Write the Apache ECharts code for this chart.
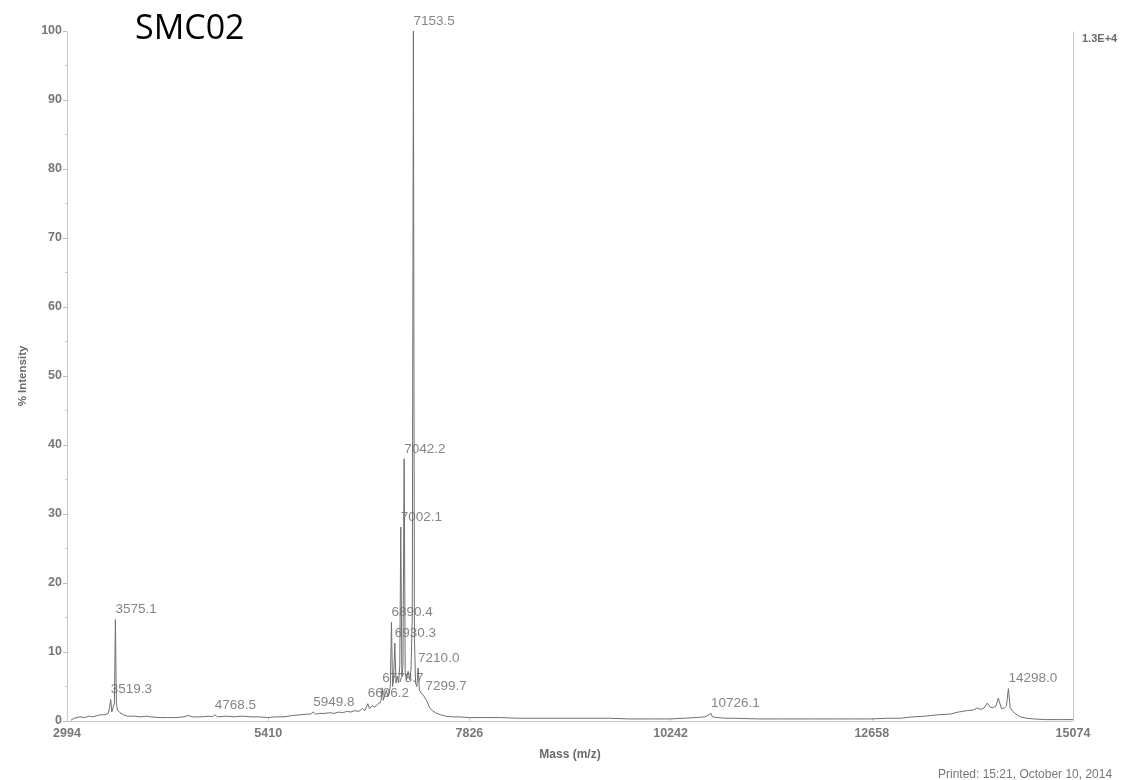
<!DOCTYPE html>
<html>
<head>
<meta charset="utf-8">
<script src="https://cdn.jsdelivr.net/npm/echarts@6/dist/echarts.min.js"></script>
<style>
html,body{margin:0;padding:0;background:#fff;}
#chart{width:1129px;height:780px;}
</style>
</head>
<body>
<div id="chart"></div>
<script>
// Spectrum trace (mass m/z, % intensity)
var specMass = [
  3040, 3080, 3150, 3200, 3260, 3300, 3360, 3400, 3450, 3490, 3505, 3519.3, 3532, 3550, 3563, 3575.1, 3587, 3600, 3630, 3670, 3720,
  3800, 3880, 3950, 4000, 4100, 4200, 4300, 4400, 4450, 4500, 4600, 4700, 4740, 4768.5, 4800, 4900, 5000, 5100, 5200, 5300, 5400,
  5500, 5600, 5700, 5800, 5880, 5920, 5949.8, 5980, 6030, 6080, 6150, 6200, 6260, 6300, 6360, 6400, 6450, 6500, 6540, 6570, 6590,
  6606.2, 6625, 6660, 6690, 6720, 6750, 6765, 6778.7, 6792, 6810, 6830, 6845, 6860, 6876, 6890.4, 6903, 6915, 6930.3, 6945, 6960,
  6975, 6990, 7002.1, 7015, 7028, 7042.2, 7055, 7070, 7090, 7110, 7125, 7140, 7153.5, 7166, 7180, 7195, 7210, 7225, 7250, 7280,
  7299.7, 7320, 7345, 7380, 7420, 7480, 7540, 7620, 7700, 7826, 8000, 8200, 8400, 8600, 8800, 9000, 9250, 9500, 9750, 10000,
  10242, 10400, 10550, 10650, 10690, 10705, 10712, 10726.1, 10745, 10800, 10900, 11000, 11300, 11600, 11900, 12200, 12450, 12658,
  12850, 13000, 13150, 13300, 13450, 13600, 13700, 13800, 13880, 13924, 13960, 14000, 14045, 14080, 14110, 14150, 14177, 14215,
  14250, 14275, 14298, 14320, 14350, 14400, 14443, 14520, 14600, 14750, 14900, 15074
];
var specIntensity = [
  0.1, 0.4, 0.6, 0.5, 0.7, 0.6, 0.8, 0.9, 0.9, 1.1, 2.0, 3.1, 1.3, 1.3, 2.6, 14.7, 2.6, 1.6, 1.2, 0.9, 0.7,
  0.7, 0.6, 0.7, 0.6, 0.5, 0.5, 0.5, 0.6, 0.8, 0.6, 0.6, 0.7, 0.6, 0.9, 0.6, 0.7, 0.6, 0.7, 0.6, 0.6, 0.5,
  0.6, 0.6, 0.8, 0.9, 1.0, 1.0, 1.3, 1.0, 1.1, 1.1, 1.2, 1.1, 1.3, 1.2, 1.4, 1.3, 1.5, 1.4, 1.8, 1.5, 1.7,
  2.5, 1.8, 2.2, 2.0, 2.4, 2.6, 3.0, 4.8, 3.0, 3.2, 4.5, 3.5, 4.0, 5.0, 14.3, 5.0, 6.0, 11.3, 5.5, 6.5,
  5.5, 8.0, 28.1, 6.5, 8.0, 38.0, 7.0, 6.0, 7.2, 6.0, 7.5, 15.0, 100, 12.0, 5.5, 5.0, 7.7, 4.5, 4.0, 3.6,
  3.6, 2.8, 2.0, 1.5, 1.2, 0.9, 0.7, 0.6, 0.6, 0.5, 0.5, 0.5, 0.4, 0.4, 0.4, 0.4, 0.4, 0.4, 0.3, 0.3,
  0.3, 0.4, 0.5, 0.6, 0.8, 0.6, 0.7, 1.1, 0.6, 0.5, 0.4, 0.4, 0.3, 0.3, 0.3, 0.3, 0.3, 0.3,
  0.4, 0.4, 0.6, 0.7, 0.9, 1.0, 1.3, 1.5, 1.6, 1.9, 1.7, 1.8, 2.6, 2.0, 1.9, 2.2, 3.3, 1.8,
  1.9, 2.2, 4.7, 1.9, 1.4, 0.9, 0.6, 0.4, 0.3, 0.2, 0.2, 0.2
];

// Labelled peaks
var peakMass = [3519.3, 3575.1, 4768.5, 5949.8, 6606.2, 6778.7, 6890.4, 6930.3, 7002.1, 7042.2, 7153.5, 7210.0, 7299.7, 10726.1, 14298.0];
var peakIntensity = [3.1, 14.7, 0.9, 1.3, 2.5, 4.8, 14.3, 11.3, 28.1, 38.0, 100, 7.7, 3.6, 1.1, 4.7];
var peakLabels = ['3519.3', '3575.1', '4768.5', '5949.8', '6606.2', '6778.7', '6890.4', '6930.3', '7002.1', '7042.2', '7153.5', '7210.0', '7299.7', '10726.1', '14298.0'];

// Axis ticks
var xMin = 2994, xMax = 15074, xStep = 2416;
var yMin = 0, yMax = 100, yStep = 10;

var spectrum = specMass.map(function (m, i) { return [m, specIntensity[i]]; });
var peaks = peakMass.map(function (m, i) { return { value: [m, peakIntensity[i]], name: peakLabels[i] }; });

var chart = echarts.init(document.getElementById('chart'), null, { renderer: 'canvas' });
var axisGrey = '#777777';
var font = 'Liberation Sans, Arial, sans-serif';

chart.setOption({
  animation: false,
  backgroundColor: '#ffffff',
  grid: { left: 67, right: 56, top: 31, bottom: 59, containLabel: false },
  xAxis: {
    type: 'value', min: xMin, max: xMax, interval: xStep,
    name: 'Mass (m/z)', nameLocation: 'middle', nameGap: 28,
    nameTextStyle: { color: '#6a6a6a', fontWeight: 'bold', fontSize: 12, fontFamily: font },
    axisLine: { show: true, lineStyle: { color: '#bdbdbd', width: 1, type: 'dotted' } },
    axisTick: { show: true, inside: true, length: 3, lineStyle: { color: '#cccccc' } },
    axisLabel: { color: axisGrey, fontWeight: 'bold', fontSize: 12.5, fontFamily: font, margin: 6,
      formatter: function (v) { return String(v); } },
    splitLine: { show: false }
  },
  yAxis: [{
    type: 'value', min: yMin, max: yMax, interval: yStep,
    name: '% Intensity', nameLocation: 'middle', nameGap: 38, nameRotate: 90,
    nameTextStyle: { color: '#6a6a6a', fontWeight: 'bold', fontSize: 11.5, fontFamily: font },
    axisLine: { show: true, lineStyle: { color: '#bdbdbd', width: 1, type: 'dotted' } },
    axisTick: { show: true, length: 4, lineStyle: { color: '#bbbbbb' } },
    minorTick: { show: true, splitNumber: 2, length: 2, lineStyle: { color: '#cccccc' } },
    axisLabel: { color: axisGrey, fontWeight: 'bold', fontSize: 12.5, fontFamily: font, margin: 5 },
    splitLine: { show: false }
  }, {
    type: 'value', min: yMin, max: yMax, position: 'right',
    axisLine: { show: true, lineStyle: { color: '#bdbdbd', width: 1, type: 'dotted' } },
    axisTick: { show: false }, axisLabel: { show: false }, splitLine: { show: false }
  }],
  series: [{
    type: 'line',
    data: spectrum,
    showSymbol: false,
    symbol: 'none',
    lineStyle: { color: '#707070', width: 1 },
    silent: true
  }, {
    type: 'scatter',
    data: peaks,
    symbolSize: 0,
    itemStyle: { color: 'rgba(0,0,0,0)' },
    label: {
      show: true, position: 'top', distance: 3, align: 'left',
      formatter: function (p) { return p.name; },
      color: '#666666', fontSize: 13.5, fontFamily: font
    },
    silent: true
  }],
  graphic: [
    { type: 'text', left: 135, top: 12, style: { text: 'SMC02', font: '34px "Open Sans", sans-serif', fill: '#000000' } },
    { type: 'text', left: 1082, top: 33, style: { text: '1.3E+4', font: 'bold 11px ' + font, fill: '#6a6a6a' } },
    { type: 'text', left: 938, top: 769, style: { text: 'Printed: 15:21, October 10, 2014', font: '12px ' + font, fill: '#777777' } }
  ]
});
</script>
</body>
</html>
